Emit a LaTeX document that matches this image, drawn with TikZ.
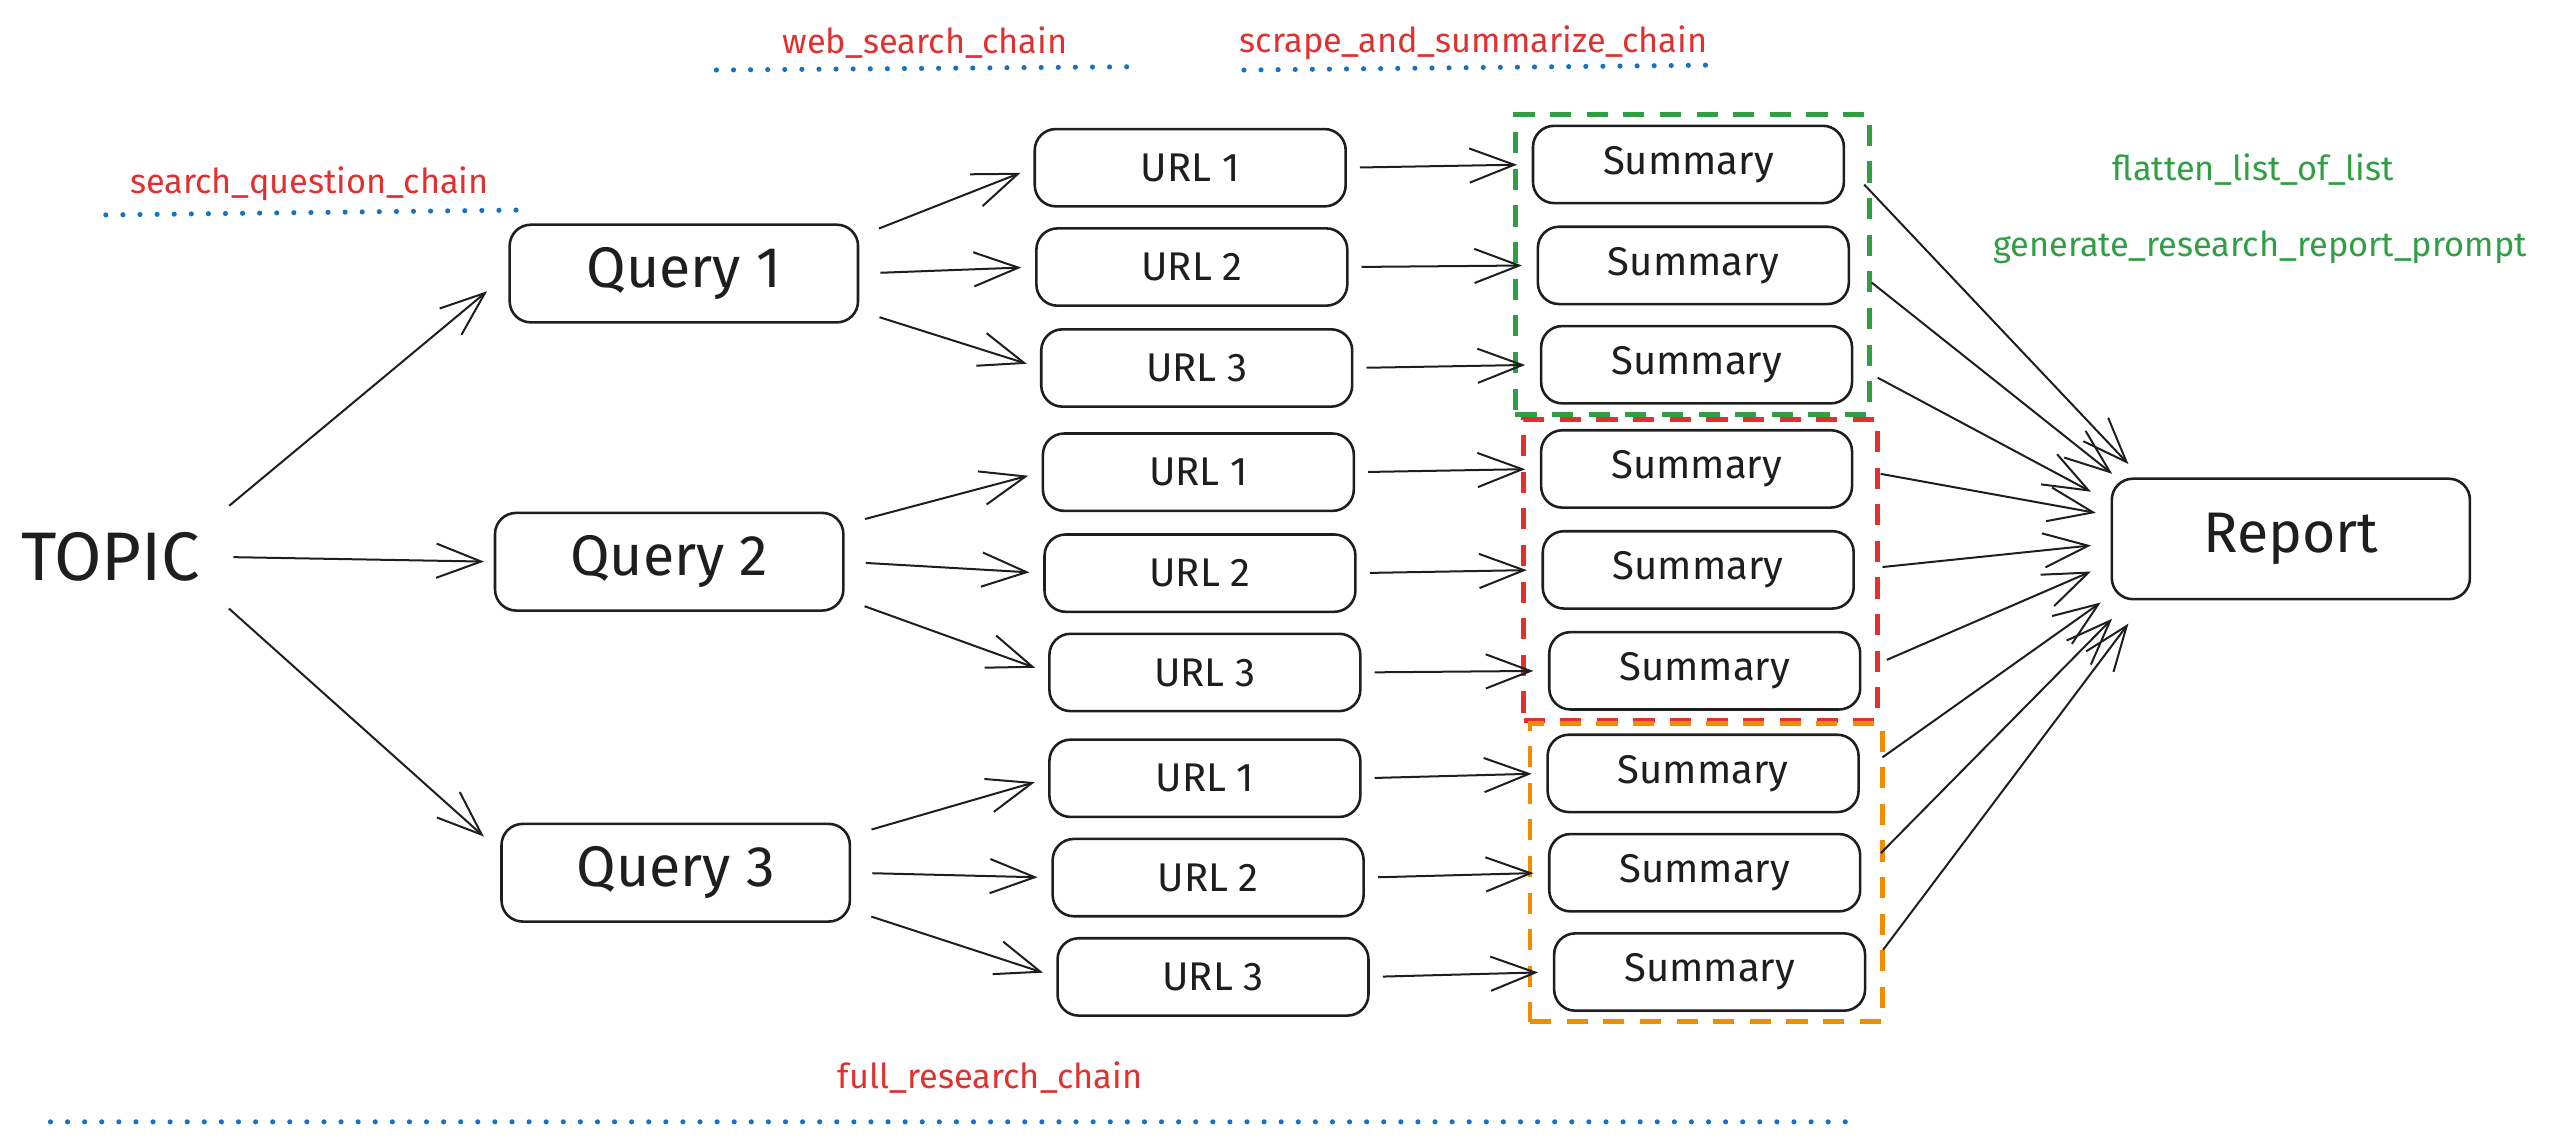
\documentclass[tikz,border=0pt]{standalone}
\usepackage{fontspec}
\setmainfont{Fira Sans}
\usetikzlibrary{calc,fit,arrows.meta}
\definecolor{ink}{HTML}{1E1E1E}
\definecolor{inkred}{HTML}{E03131}
\definecolor{inkgreen}{HTML}{2F9E44}
\definecolor{inkorange}{HTML}{F08C00}
\definecolor{inkblue}{HTML}{1971C2}
\tikzset{>={Straight Barb[length=0.55cm,width=0.42cm]}}

\begin{document}
\begin{tikzpicture}[x=0.02cm,y=-0.02cm,
  box/.style={draw=ink,text=ink,line width=0.9pt,rounded corners=0.26cm,
    minimum width=3.82cm,minimum height=0.95cm,font=\fontsize{14}{16}\selectfont},
  qbox/.style={box,minimum width=4.28cm,minimum height=1.2cm,font=\fontsize{20}{24}\selectfont},
  flow/.style={->,draw=ink,line width=0.7pt,shorten <=0.22cm,shorten >=0.17cm},
  chainlbl/.style={font=\fontsize{12}{14}\selectfont,text=inkred},
  promptlbl/.style={font=\fontsize{12}{14}\selectfont,text=inkgreen},
  dotrule/.style={draw=inkblue,line width=1.8pt,line cap=round,dash pattern=on 0pt off 0.21cm},
  sumgroup/.style={draw=#1,line width=1.6pt,dash pattern=on 0.26cm off 0.19cm,
    inner xsep=0.2cm,inner ysep=0.12cm}]
% Page frame
\useasboundingbox (0,0) rectangle (1568,700);

% Topic and queries
\node[text=ink,font=\fontsize{24}{28}\selectfont,inner sep=0.18cm] (topic) at (68,342) {TOPIC};
\node[qbox] (q1) at (420,168) {Query 1};
\node[qbox] (q2) at (411,345) {Query 2};
\node[qbox] (q3) at (415,536) {Query 3};

% URL boxes
\node[box] (u11) at (731,103) {URL 1};
\node[box] (u12) at (732,164) {URL 2};
\node[box] (u13) at (735,226) {URL 3};
\node[box] (u21) at (736,290) {URL 1};
\node[box] (u22) at (737,352) {URL 2};
\node[box] (u23) at (740,413) {URL 3};
\node[box] (u31) at (740,478) {URL 1};
\node[box] (u32) at (742,539) {URL 2};
\node[box] (u33) at (745,600) {URL 3};

% Summary boxes
\node[box] (s11) at (1037,101) {Summary};
\node[box] (s12) at (1040,163) {Summary};
\node[box] (s13) at (1042,224) {Summary};
\node[box] (s21) at (1042,288) {Summary};
\node[box] (s22) at (1043,350) {Summary};
\node[box] (s23) at (1047,412) {Summary};
\node[box] (s31) at (1046,475) {Summary};
\node[box] (s32) at (1047,536) {Summary};
\node[box] (s33) at (1050,597) {Summary};

% Report
\node[qbox,minimum width=4.4cm,minimum height=1.48cm] (report) at (1407,331) {Report};

% Dashed groups round the summaries
\node[sumgroup=inkgreen,fit=(s11)(s13)] (g1) {};
\node[sumgroup=inkred,fit=(s21)(s23)] (g2) {};
\node[sumgroup=inkorange,fit=(s31)(s33)] (g3) {};

% Arrows from the topic
\draw[flow,shorten >=0.34cm] (topic.north east) -- (q1.west);
\draw[flow,shorten >=0.12cm] (topic.east) -- (q2.west);
\draw[flow,shorten >=0.27cm] (topic.south east) -- (q3.173);

% Arrows from the queries
\foreach \q in {1,2,3}{
  \draw[flow,shorten <=0.26cm] (q\q.12) -- (u\q1.west);
  \draw[flow,shorten <=0.26cm] (q\q.east) -- (u\q2.west);
  \draw[flow,shorten <=0.26cm] (q\q.-12) -- (u\q3.west);
}

% URL to summary
\foreach \q in {1,2,3}{
  \foreach \k in {1,2,3}
    \draw[flow,shorten <=0.16cm,shorten >=0.18cm] (u\q\k.east) -- (s\q\k.west);
}

% Points where the arrows meet the report
\foreach \i/\dx/\dy in {1/11/-46,2/1/-40,3/-12/-29,4/-9/-16,5/-12/4,
                        6/-12/20,7/-6/39,8/1/49,9/11/52}
  \coordinate (r\i) at ($(report.west)+(\dx,\dy)$);

% Summary to report
\foreach \s [count=\i] in {s11,s12,s13,s21,s22,s23,s31,s32,s33}
  \draw[flow,shorten <=0.34cm,shorten >=0pt] (\s.east) -- (r\i);

% Chain labels with dotted rules
\node[chainlbl] (lsq) at (190,113) {search\_question\_chain};
\draw[dotrule] (65,132) -- (319,129);
\node[chainlbl] (lws) at (568,26) {web\_search\_chain};
\draw[dotrule] (440,43) -- (694,41);
\node[chainlbl] (lss) at (905,26) {scrape\_and\_summarize\_chain};
\draw[dotrule] (764,43) -- (1050,40);
\node[chainlbl] (lfr) at (608,662) {full\_research\_chain};
\draw[dotrule] (31,689) -- (1143,689);

% Report prompts
\node[promptlbl] (lfl) at (1384,104) {flatten\_list\_of\_list};
\node[promptlbl] (lgr) at (1388,152) {generate\_research\_report\_prompt};
\end{tikzpicture}
\end{document}
